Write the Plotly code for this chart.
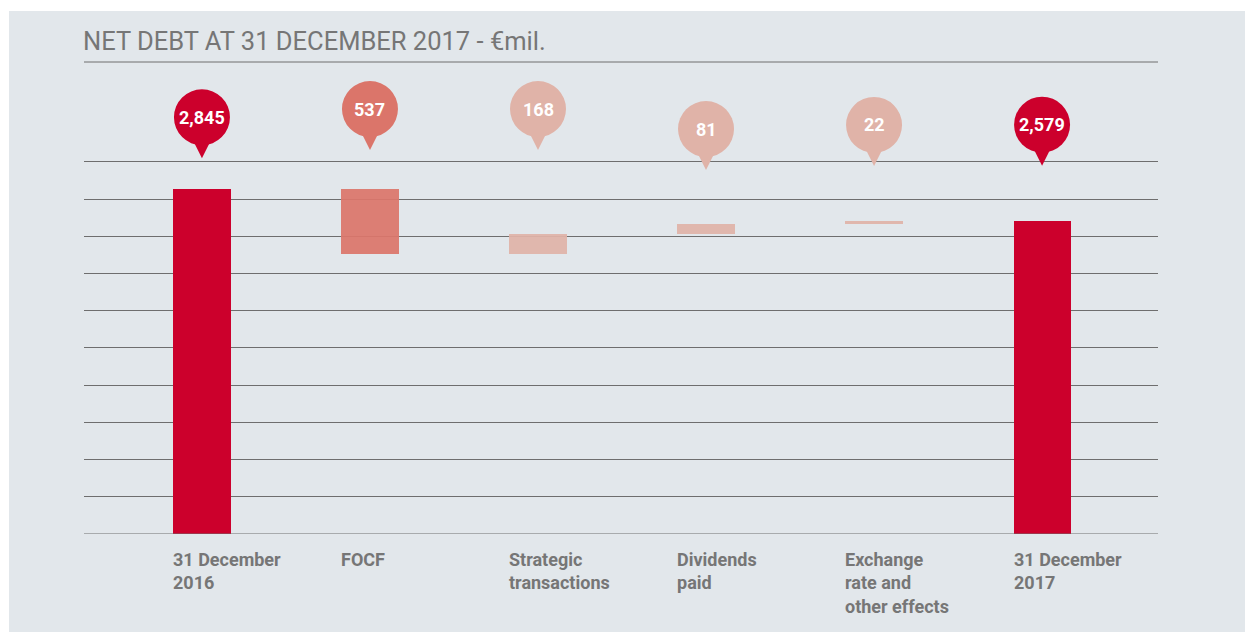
import plotly.graph_objects as go

# ---- data ----
categories = ["31 December<br>2016", "FOCF", "Strategic<br>transactions",
              "Dividends<br>paid", "Exchange<br>rate and<br>other effects", "31 December<br>2017"]
start_value = 2845
changes = [-537, 168, 81, 22]
end_value = 2579
bubble_labels = ["2,845", "537", "168", "81", "22", "2,579"]
bubble_tip_levels = [3098, 3166, 3166, 3001, 3035, 3037]  # y (data units) of balloon pointer tips
grid_step = 306.8
y_max = 3892

RED = "#cc002c"
SALMON = "#db756a"
LIGHT = "#e0b3a8"
BG = "#e2e7eb"
GRID = "#6e6e6e"
TEXT = "#767676"

bar_colors = [RED, SALMON, LIGHT, LIGHT, LIGHT, RED]
bar_fill = [RED, "rgba(219,117,106,0.93)", "rgba(224,179,168,0.93)",
            "rgba(224,179,168,0.93)", "rgba(224,179,168,0.93)", RED]

# waterfall bases/heights
bases, heights = [0], [start_value]
level = start_value
for c in changes:
    new = level + c
    bases.append(min(level, new))
    heights.append(abs(c))
    level = new
bases.append(0)
heights.append(end_value)

xs = list(range(len(categories)))

fig = go.Figure()
fig.add_trace(go.Bar(
    x=xs, y=heights, base=bases, width=0.34,
    marker=dict(color=bar_fill, line=dict(width=0)),
    hoverinfo="skip", showlegend=False,
))

PW, PH = 1074, 472  # plot area size in px

shapes = []
# background panel
shapes.append(dict(type="rect", xref="paper", yref="paper",
                   x0=-75 / PW, x1=1.2,
                   y0=-0.3, y1=523 / PH,
                   fillcolor=BG, line=dict(width=0), layer="below"))
# title rule (top of plot area) and baseline
shapes.append(dict(type="line", xref="paper", yref="paper", x0=0, x1=1, y0=1, y1=1,
                   line=dict(color=GRID, width=1)))
shapes.append(dict(type="line", xref="paper", yref="y", x0=0, x1=1, y0=0, y1=0,
                   line=dict(color=GRID, width=1), layer="above"))

annotations = []
for i, (lab, tip, col) in enumerate(zip(bubble_labels, bubble_tip_levels, bar_colors)):
    shapes.append(dict(type="circle", xref="x", yref="y", xsizemode="pixel", ysizemode="pixel",
                       xanchor=i, yanchor=tip, x0=-28, x1=28, y0=13, y1=69,
                       fillcolor=col, line=dict(width=0), layer="above"))
    shapes.append(dict(type="path", xref="x", yref="y", xsizemode="pixel", ysizemode="pixel",
                       xanchor=i, yanchor=tip, path="M-8.5,17 L0,0 L8.5,17 Z",
                       fillcolor=col, line=dict(width=0), layer="above"))
    annotations.append(dict(x=i, y=tip, xref="x", yref="y", yshift=41, text=f"<b>{lab}</b>",
                            showarrow=False, font=dict(family="Roboto", size=18, color="white"),
                            xanchor="center", yanchor="middle"))

for i, cat in enumerate(categories):
    annotations.append(dict(x=i - 0.17, xref="x", y=-13 / PH, yref="paper",
                            text=f"<b>{cat}</b>", showarrow=False, align="left",
                            xanchor="left", yanchor="top", xshift=-2,
                            font=dict(family="Roboto", size=18, color=TEXT)))

annotations.append(dict(x=0, xref="paper", y=(472 + 21) / PH, yref="paper",
                        text="NET DEBT AT 31 DECEMBER 2017 - €mil.", showarrow=False,
                        xanchor="left", yanchor="middle", xshift=-3,
                        font=dict(family="Roboto", size=25.5, color=TEXT)))

fig.update_layout(
    width=1245, height=624,
    margin=dict(l=76, r=95, t=54, b=98),
    paper_bgcolor="white", plot_bgcolor="rgba(0,0,0,0)",
    shapes=shapes, annotations=annotations,
    xaxis=dict(range=[-0.702, 5.69], showgrid=False, showticklabels=False,
               zeroline=False, fixedrange=True),
    yaxis=dict(range=[0, y_max], tickvals=[grid_step * k for k in range(11)],
               showticklabels=False, showgrid=True, gridcolor=GRID, gridwidth=1,
               zeroline=False, fixedrange=True),
    bargap=0,
)

fig.write_html("out.html")
